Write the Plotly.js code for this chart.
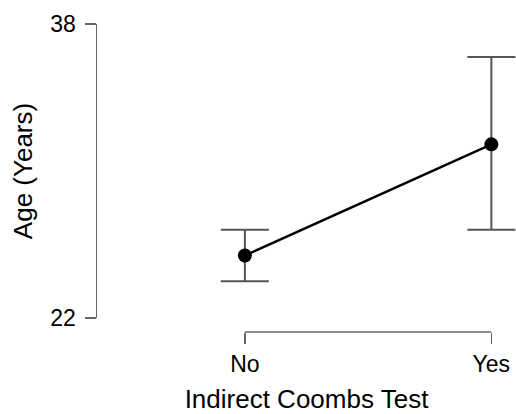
<!DOCTYPE html>
<html>
<head>
<meta charset="utf-8">
<script src="https://cdn.plot.ly/plotly-3.0.1.min.js"></script>
<style>html,body{margin:0;padding:0;background:#fff;}#chart{width:516px;height:414px;}</style>
</head>
<body>
<div id="chart"></div>
<script>
const categories = ["No", "Yes"];
const meanAge = [25.4, 31.45];
const upperCI = [26.8, 36.2];
const lowerCI = [24.0, 26.8];
const yTicks = [22, 38];

const errPlus = upperCI.map((u, i) => u - meanAge[i]);
const errMinus = meanAge.map((m, i) => m - lowerCI[i]);

const font = "Liberation Sans, Arial, sans-serif";

const trace = {
  x: categories,
  y: meanAge,
  type: "scatter",
  mode: "lines+markers",
  line: {color: "#000", width: 2.4},
  marker: {color: "#000", size: 14},
  error_y: {type: "data", symmetric: false, array: errPlus, arrayminus: errMinus,
            color: "#555", thickness: 2, width: 24},
  cliponaxis: false,
  showlegend: false
};

const layout = {
  width: 516, height: 414,
  margin: {l: 97, r: 0, t: 24, b: 82},
  paper_bgcolor: "#fff", plot_bgcolor: "#fff",
  font: {family: font, color: "#000"},
  xaxis: {
    type: "category",
    range: [-0.6, 1.1],
    anchor: "free", position: 0,
    showline: false, showgrid: false, zeroline: false,
    ticks: "outside", ticklen: 11, tickwidth: 1.5, tickcolor: "#666",
    tickfont: {size: 23, family: font, color: "#000"},
    title: {text: "Indirect Coombs Test", font: {size: 26, family: font, color: "#000"}, standoff: 19}
  },
  yaxis: {
    domain: [0.0455, 1],
    range: [22, 38],
    tickvals: yTicks,
    showline: true, linecolor: "#666", linewidth: 1.5,
    showgrid: false, zeroline: false,
    ticks: "outside", ticklen: 11, tickwidth: 1.5, tickcolor: "#666",
    ticklabelstandoff: 4,
    tickfont: {size: 23, family: font, color: "#000"},
    title: {text: "Age (Years)", font: {size: 26, family: font, color: "#000"}, standoff: 10}
  },
  shapes: [{
    type: "line", xref: "x", yref: "paper",
    x0: categories[0], x1: categories[categories.length - 1], y0: 0, y1: 0,
    line: {color: "#666", width: 1.5}
  }]
};

Plotly.newPlot("chart", [trace], layout, {displayModeBar: false, staticPlot: true});
</script>
</body>
</html>
